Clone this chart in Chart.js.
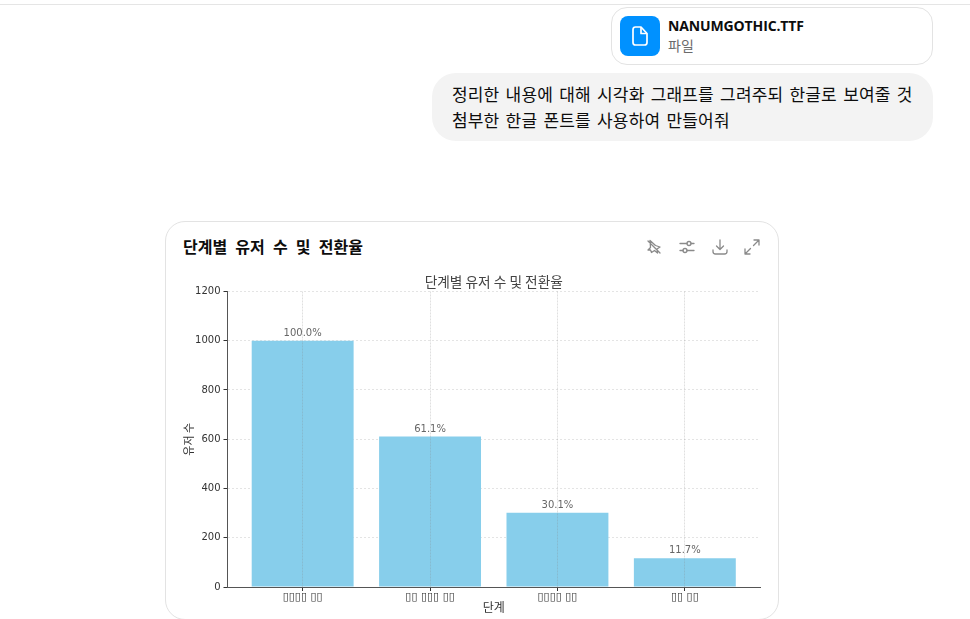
<!DOCTYPE html>
<html lang="ko"><head><meta charset="utf-8">
<script src="https://cdn.jsdelivr.net/npm/chart.js@4"></script>
<style>
html,body{margin:0;padding:0;background:#fff;width:970px;height:619px;overflow:hidden;font-family:"Noto Sans CJK KR","Noto Sans",sans-serif;color:#0d0d0d}
.abs{position:absolute;box-sizing:border-box}
#top{left:0;top:4px;width:970px;height:1px;background:#e5e5e5}
#file{left:611px;top:7px;width:322px;height:58px;border:1px solid #e3e3e3;border-radius:16px}
#ficon{left:620px;top:16px;width:40px;height:40px;background:#0091ff;border-radius:8px}
#fname{left:668px;top:16px;font:700 14px/20px "Open Sans","Noto Sans",sans-serif;color:#0d0d0d;white-space:nowrap;letter-spacing:-.13px}
#ftype{left:668px;top:35px;font:400 14px/20px "Noto Sans CJK KR";color:#6b6b6b}
#bubble{left:432px;top:73px;width:501px;height:68px;background:#f3f3f3;border-radius:24px}
#msg{left:452px;top:81px;font:400 17px/26px "Noto Sans CJK KR";white-space:nowrap;letter-spacing:.16px;word-spacing:1.3px;color:#0d0d0d}
#card{left:165px;top:221px;width:614px;height:399px;border:1px solid #e3e3e3;border-radius:20px}
#ctitle{left:183px;top:235px;font:700 16px/22px "Noto Sans CJK KR";white-space:nowrap;color:#0d0d0d;word-spacing:3.7px}
svg.ic{position:absolute;fill:none;stroke:#8a8a8a;stroke-width:1.3;stroke-linecap:round;stroke-linejoin:round}
canvas{position:absolute;left:0;top:0}
</style></head><body>
<div class="abs" id="top"></div>
<div class="abs" id="file"></div>
<div class="abs" id="ficon"><svg width="40" height="40" viewBox="0 0 40 40" fill="none" stroke="#fff" stroke-width="1.7" stroke-linejoin="round"><path d="M13 13.5a2.5 2.5 0 0 1 2.5-2.5h5.5l6 6.5v9a2.5 2.5 0 0 1-2.5 2.5h-9a2.5 2.5 0 0 1-2.5-2.5z"/><path d="M21 11v6.5h6"/></svg></div>
<div class="abs" id="fname">NANUMGOTHIC.TTF</div>
<div class="abs" id="ftype">파일</div>
<div class="abs" id="bubble"></div>
<div class="abs" id="msg">정리한 내용에 대해 시각화 그래프를 그려주되 한글로 보여줄 것<br>첨부한 한글 폰트를 사용하여 만들어줘</div>
<div class="abs" id="card"></div>
<div class="abs" id="ctitle">단계별 유저 수 및 전환율</div>
<svg class="ic" style="left:645px;top:238px" width="18" height="18" viewBox="0 0 18 18"><path d="M3 3l12 12M5 2.5l5.5 5 4.5 1.5-3 2 .5 4-3-2.500-3 2-1-2.500L3 12l2.500-2.500z"/></svg>
<svg class="ic" style="left:678px;top:238px" width="18" height="18" viewBox="0 0 18 18"><path d="M2 5.500h7M13 5.500h3M2 12.500h3M9 12.500h7"/><circle cx="11" cy="5.500" r="2"/><circle cx="7" cy="12.500" r="2"/></svg>
<svg class="ic" style="left:711px;top:238px" width="18" height="18" viewBox="0 0 18 18"><path d="M9 2v9M5.500 8l3.500 3.500L12.500 8M2 12v1.500A2.500 2.500 0 0 0 4.500 16h9a2.500 2.500 0 0 0 2.500-2.500V12"/></svg>
<svg class="ic" style="left:743px;top:238px" width="18" height="18" viewBox="0 0 18 18"><path d="M10.500 7.500L16 2M11 2h5v5M7.500 10.500L2 16M2 11v5h5"/></svg>
<canvas id="c" width="970" height="619"></canvas>
<script>
const categories = ["▯▯▯▯ ▯▯", "▯▯ ▯▯▯ ▯▯", "▯▯▯▯ ▯▯", "▯▯ ▯▯"];
const users = [1000, 611, 301, 117];
const rates = ["100.0%", "61.1%", "30.1%", "11.7%"];
const yTicks = [0, 200, 400, 600, 800, 1000, 1200];
const chartTitle = "단계별 유저 수 및 전환율";
const xTitle = "단계";
const yTitle = "유저 수";

const barLabels = {
  id: "barLabels",
  afterDatasetsDraw(chart) {
    const { ctx, scales: { x, y } } = chart;
    ctx.save();
    ctx.font = '10px "DejaVu Sans"';
    ctx.fillStyle = "#666";
    ctx.textAlign = "center";
    ctx.textBaseline = "alphabetic";
    users.forEach((v, i) => ctx.fillText(rates[i], x.getPixelForValue(i), y.getPixelForValue(v) - 5));
    ctx.restore();
  }
};

new Chart(document.getElementById("c"), {
  type: "bar",
  data: { datasets: [{
    data: users.map((v, i) => ({ x: i, y: v })),
    backgroundColor: "#87ceeb",
    barPercentage: 0.8, categoryPercentage: 1
  }] },
  options: {
    responsive: false, animation: false, devicePixelRatio: 1,
    layout: { padding: { left: 182, right: 210, top: 274, bottom: 4 } },
    plugins: {
      legend: { display: false }, tooltip: { enabled: false },
      title: { display: true, text: chartTitle, fullSize: false, color: "#444",
        font: { family: '"Noto Sans CJK KR"', size: 13.7, weight: "400" }, padding: { top: 0, bottom: 1 } }
    },
    scales: {
      x: {
        type: "linear", min: -0.59, max: 3.59, offset: false,
        afterBuildTicks(s) { s.ticks = categories.map((_, i) => ({ value: i })); },
        afterFit(s) { s.height = 28; },
        ticks: { callback: (v) => categories[v], color: "#333", maxRotation: 0, autoSkip: false,
          font: { family: '"DejaVu Sans"', size: 11 }, padding: 0 },
        grid: { offset: false, color: "rgba(130,130,130,0.25)", z: 1, tickColor: "#333", tickLength: 4, tickBorderDash: [] },
        border: { display: true, color: "#555", dash: [2, 1], z: 1 },
        title: { display: true, text: xTitle, color: "#333", padding: 0,
          font: { family: '"Noto Sans CJK KR"', size: 12 } }
      },
      y: {
        min: 0, max: 1200,
        afterBuildTicks(s) { s.ticks = yTicks.map((v) => ({ value: v })); },
        afterFit(s) { s.width = 45.5; },
        ticks: { callback: (v) => String(v), color: "#333", font: { family: '"DejaVu Sans"', size: 10 }, padding: 3 },
        grid: { color: "rgba(120,120,120,0.2)", tickColor: "#333", tickLength: 4, tickBorderDash: [] },
        border: { display: true, color: "#555", dash: [2, 2] },
        title: { display: true, text: yTitle, color: "#333", padding: 0,
          font: { family: '"Noto Sans CJK KR"', size: 11 } }
      }
    }
  },
  plugins: [barLabels]
});
</script>
</body></html>
